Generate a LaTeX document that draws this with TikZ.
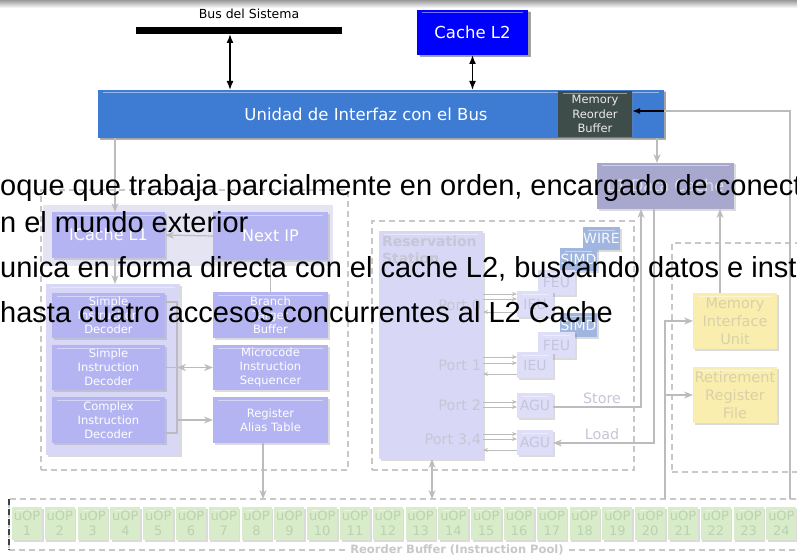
\documentclass[tikz,border=0pt]{standalone}
\usepackage{fontspec}
\setmainfont{DejaVu Sans}
\newfontfamily\arialf{Liberation Sans}
\usetikzlibrary{arrows.meta,shadows}
\definecolor{lav}{RGB}{180,180,242}
\definecolor{lavlt}{RGB}{222,222,248}
\definecolor{lavtx}{RGB}{196,196,222}
\definecolor{panelc}{RGB}{228,228,243}
\definecolor{decpan}{RGB}{216,216,246}
\definecolor{dcachec}{RGB}{168,168,206}
\definecolor{steel}{RGB}{160,182,224}
\definecolor{yel}{RGB}{250,238,174}
\definecolor{yeltx}{RGB}{218,208,168}
\definecolor{grn}{RGB}{216,236,202}
\definecolor{grntx}{RGB}{186,210,176}
\definecolor{glc}{RGB}{188,188,188}
\definecolor{dashc}{RGB}{200,200,200}
\definecolor{ubus}{RGB}{62,124,212}
\definecolor{mrbc}{RGB}{62,76,74}
\definecolor{porttx}{RGB}{198,198,214}
\newcommand\fs[2]{\fontsize{#1}{#2}\selectfont}
\newcommand\rnode[7]{\node[#6,minimum width={#4pt-#2pt},minimum height={#5pt-#3pt}] (#1) at ({(#2+#4)/2},{(#3+#5)/2}) {#7};}
\tikzset{
  bx/.style={inner sep=0pt,outer sep=0pt,align=center,
    drop shadow={opacity=.28,shadow xshift=1.5pt,shadow yshift=-1.5pt},
    path picture={\draw[white,opacity=.45,line width=1pt]
      ([xshift=5pt,yshift=-3pt]path picture bounding box.north west) --
      ([xshift=-5pt,yshift=-3pt]path picture bounding box.north east);}},
  plain/.style={inner sep=0pt,outer sep=0pt,align=center},
  gl/.style={draw=glc,line width=1.2pt},
  ga/.style={gl,-{Stealth[length=9pt,width=7pt]}},
  ga2/.style={gl,{Stealth[length=9pt,width=7pt]}-{Stealth[length=9pt,width=7pt]}},
  pa/.style={draw=glc,line width=0.8pt,-{Stealth[length=5pt,width=4pt]}},
  pb/.style={draw=glc,line width=0.8pt,{Stealth[length=5pt,width=4pt]}-},
  bigarr/.style={black,line width=1.6pt,{Latex[length=9pt,width=7pt]}-{Latex[length=9pt,width=7pt]}},
  dbox/.style={draw=dashc,dash pattern=on 6pt off 4pt,line width=1.2pt,inner sep=0pt,outer sep=0pt},
  ovl/.style={font=\arialf\fs{29}{34},anchor=base west,inner sep=0pt,text=black},
  dtx/.style={font=\fs{11.5}{14},text=white},
  utx/.style={font=\fs{14}{16},text=lavtx},
}
\begin{document}
\begin{tikzpicture}[x=1pt,y=-1pt]
\useasboundingbox (0,0) rectangle (797,556);
\clip (0,0) rectangle (797,556);
\fill[white] (0,0) rectangle (797,556);
\shade[top color=black!40,bottom color=white] (0,0) rectangle (797,8);

% ---------- top (full colour) ----------
\node[plain,font=\fs{12.5}{14}] (buslbl) at (249,14) {Bus del Sistema};
\rnode{bus}{136}{27}{342}{34}{plain,fill=black}{}
\rnode{cl2}{417}{10}{528}{55}{bx,fill=blue,drop shadow={opacity=.7,shadow xshift=2.5pt,shadow yshift=-2.5pt},font=\fs{16.5}{18},text=white}{Cache L2}
\rnode{unidad}{98}{90}{664}{138}{bx,fill=ubus,drop shadow={opacity=.6,shadow xshift=2pt,shadow yshift=-2pt},font=\fs{16.5}{18},text=white}{\hspace*{-30pt}Unidad de Interfaz con el Bus}
\rnode{mrb}{558}{91}{632}{137}{bx,fill=mrbc,font=\fs{11.5}{14.5},text=white!92!black}{Memory\\Reorder\\Buffer}

% ---------- dashed groups and panels ----------
\rnode{fe}{41}{190}{348}{470}{dbox}{}
\rnode{rsbox}{372}{221}{634}{470}{dbox}{}
\rnode{rbox}{672}{243}{802}{472}{dbox}{}
\rnode{rob}{9}{499}{802}{550}{dbox}{}
\draw[black!75,dash pattern=on 6pt off 4pt,line width=1.2pt] (rob.north west) -- (rob.south west);
\node[plain,fill=white,inner xsep=4pt,font=\bfseries\fs{11.5}{13},text=dashc] (roblbl) at (457,550) {Reorder Buffer (Instruction Pool)};

\rnode{fepanel}{43}{205}{333}{266}{plain,fill=panelc}{}
\rnode{decpanel}{46}{284}{180}{455}{bx,fill=decpan}{}
\rnode{rs}{379}{231}{483}{459}{bx,fill=decpan}{}
\node[plain,anchor=north west,align=left,font=\bfseries\fs{14}{17},text=porttx] (rslbl) at (382,236) {Reservation\\Station};

% ---------- front end ----------
\rnode{icache}{52}{212}{165}{258}{bx,fill=lav,font=\fs{16}{18},text=white}{ICache L1}
\rnode{nextip}{213}{212}{328}{260}{bx,fill=lav,font=\fs{16}{18},text=white}{Next IP}
\rnode{sid1}{52}{293}{165}{338}{bx,fill=lav,dtx}{Simple\\Instruction\\Decoder}
\rnode{sid2}{52}{345}{165}{390}{bx,fill=lav,dtx}{Simple\\Instruction\\Decoder}
\rnode{cid}{52}{397}{165}{443}{bx,fill=lav,dtx}{Complex\\Instruction\\Decoder}
\rnode{btb}{213}{292}{328}{338}{bx,fill=lav,dtx}{Branch\\Target\\Buffer}
\rnode{mis}{213}{345}{328}{390}{bx,fill=lav,dtx}{Microcode\\Instruction\\Sequencer}
\rnode{rat}{213}{397}{328}{443}{bx,fill=lav,dtx}{Register\\Alias Table}

% ---------- execution units ----------
\rnode{wire}{583}{227}{620}{250}{bx,fill=steel,font=\fs{14}{16},text=white!90!steel}{WIRE}
\rnode{simda}{560}{248}{597}{271}{bx,fill=steel,font=\fs{14}{16},text=white!90!steel}{SIMD}
\rnode{feua}{538}{270}{575}{295}{bx,fill=lavlt,utx}{FEU}
\rnode{ieua}{517}{291}{553}{317}{bx,fill=lavlt,utx}{IEU}
\rnode{simdb}{560}{313}{597}{337}{bx,fill=steel,font=\fs{14}{16},text=white!90!steel}{SIMD}
\rnode{feub}{538}{332}{575}{358}{bx,fill=lavlt,utx}{FEU}
\rnode{ieub}{517}{352}{553}{378}{bx,fill=lavlt,utx}{IEU}
\rnode{agua}{517}{393}{553}{418}{bx,fill=lavlt,utx}{AGU}
\rnode{agub}{517}{430}{553}{455}{bx,fill=lavlt,utx}{AGU}
\node[plain,anchor=east,font=\fs{14.5}{16},text=porttx] (p0) at (481,305) {Port 0};
\node[plain,anchor=east,font=\fs{14.5}{16},text=porttx] (p1) at (481,365) {Port 1};
\node[plain,anchor=east,font=\fs{14.5}{16},text=porttx] (p2) at (481,405) {Port 2};
\node[plain,anchor=east,font=\fs{14.5}{16},text=porttx] (p34) at (481,440) {Port 3,4};

% ---------- memory side ----------
\rnode{dcache}{597}{163}{734}{209}{bx,fill=dcachec,font=\fs{16}{18},text=white!60!dcachec}{L1 Data Cache}
\rnode{miu}{693}{293}{777}{349}{bx,fill=yel,font=\fs{14.5}{18},text=yeltx}{Memory\\Interface\\Unit}
\rnode{rrf}{693}{367}{777}{423}{bx,fill=yel,font=\fs{14.5}{18},text=yeltx}{Retirement\\Register\\File}
\node[plain,font=\fs{14.3}{16},text=porttx] (storel) at (602,398) {Store};
\node[plain,font=\fs{14.3}{16},text=porttx] (loadl) at (602,434) {Load};

% ---------- reorder buffer cells ----------
\foreach \i in {1,...,24}{
  \pgfmathsetmacro\xa{12+(\i-1)*32.8}
  \node[bx,fill=grn,minimum width=30pt,minimum height=33pt,font=\fs{13}{15},text=grntx] (u\i) at (\xa+15,523.5) {uOP\\\i};
}

% ---------- connectors ----------
\coordinate (bx) at (230,0);
\draw[bigarr] (bx |- bus.south) -- (bx |- unidad.north);
\draw[bigarr] (cl2.south) -- (cl2.south |- unidad.north);
\coordinate (my) at (0,111);
\draw[black,line width=1.5pt,-{Latex[length=8pt,width=6pt]}] (unidad.east |- my) -- (mrb.east |- my);
\coordinate (rr) at (790,0);
\draw[gl] (unidad.east |- my) -| (rr |- rob.north);
\coordinate (dci) at (657,0);
\draw[ga] (dci |- unidad.south) -- (dci |- dcache.north);
\coordinate (ici) at (115,0);
\draw[ga] (ici |- unidad.south) -- (ici |- icache.north);
\draw[ga] (nextip.west) -- (icache.east);
\draw[gl] (nextip.south) -- (btb.north);
\draw[ga] (ici |- icache.south) -- (ici |- decpanel.north);
\coordinate (dbx) at (177,0);
\draw[gl] (sid1.east |- 0,302) -- (dbx |- 0,302) -- (dbx |- 0,433) -- (cid.east |- 0,433);
\draw[gl] (sid2.east) -- (dbx |- sid2.east);
\draw[ga2] (dbx |- mis.west) -- (mis.west);
\draw[ga] (dbx |- 0,420) -- (rat.west |- 0,420);
\coordinate (ratx) at (263,0);
\draw[ga] (ratx |- rat.south) -- (ratx |- rob.north);
% ports
\foreach \y in {294,299}{\draw[pa] (rs.east |- 0,\y) -- (ieua.west |- 0,\y);}
\draw[pb] (rs.east |- 0,312) -- (ieua.west |- 0,312);
\foreach \y in {357,363}{\draw[pa] (rs.east |- 0,\y) -- (ieub.west |- 0,\y);}
\draw[pb] (rs.east |- 0,374) -- (ieub.west |- 0,374);
\foreach \y in {402,407}{\draw[pa] (rs.east |- 0,\y) -- (agua.west |- 0,\y);}
\foreach \y in {434,439}{\draw[pa] (rs.east |- 0,\y) -- (agub.west |- 0,\y);}
\draw[pb] (rs.east |- 0,450) -- (agub.west |- 0,450);
\coordinate (rsx) at (432,0);
\draw[ga2] (rsx |- rs.south) -- (rsx |- rob.north);
% store / load
\coordinate (stx) at (641,0);
\draw[ga] (agua.east |- 0,407) -| (stx |- dcache.south);
\coordinate (ldx) at (654,0);
\draw[ga] (ldx |- dcache.south) |- (agub.east |- 0,443);
\coordinate (mux) at (720,0);
\draw[ga] (mux |- miu.north) -- (mux |- dcache.south);
\coordinate (rx) at (665,0);
\draw[ga] (rx |- rob.north) |- (miu.west);
\draw[ga] (rx |- rrf.west) -- (rrf.west);

% ---------- overlay text ----------
\node[ovl] (t1) at (0,195) {oque que trabaja parcialmente en orden, encargado de conect};
\node[ovl] (t2) at (0,232) {n el mundo exterior};
\node[ovl] (t3) at (0,277) {unica en forma directa con el cache L2, buscando datos e instr};
\node[ovl] (t4) at (0,322) {hasta cuatro accesos concurrentes al L2 Cache};
\end{tikzpicture}
\end{document}
